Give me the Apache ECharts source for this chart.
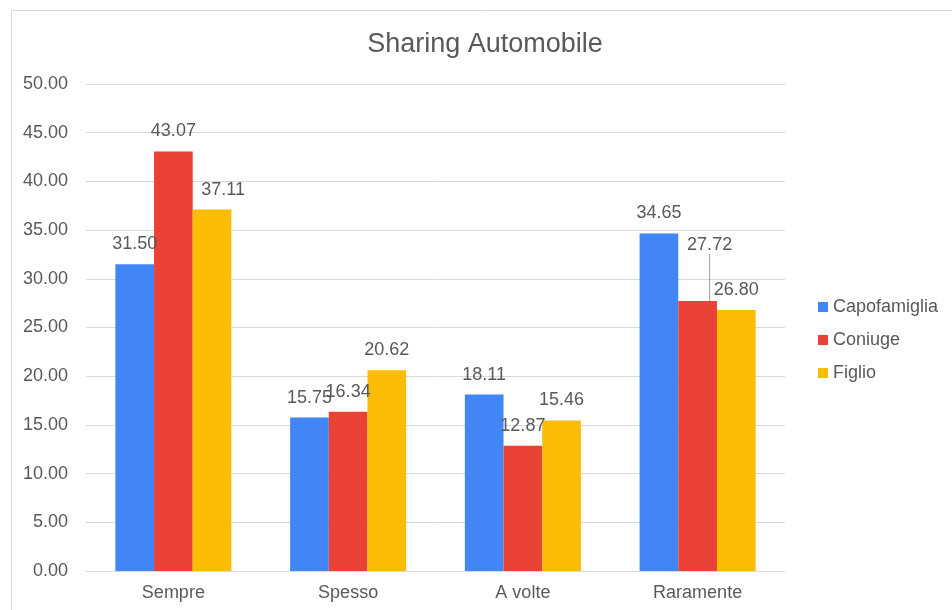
<!DOCTYPE html>
<html>
<head>
<meta charset="utf-8">
<script src="https://cdn.jsdelivr.net/npm/echarts@6/dist/echarts.min.js"></script>
<style>
  html, body { margin: 0; padding: 0; background: #fff; }
  #chart { width: 952px; height: 610px; }
</style>
</head>
<body>
<div id="chart"></div>
<script>
// dati
const categories = ['Sempre', 'Spesso', 'A volte', 'Raramente'];
const capofamiglia = [31.50, 15.75, 18.11, 34.65];
const coniuge = [43.07, 16.34, 12.87, 27.72];
const figlio = [37.11, 20.62, 15.46, 26.80];
const seriesNames = ['Capofamiglia', 'Coniuge', 'Figlio'];
const colors = ['#4285F4', '#EA4335', '#FBBC04'];

const textColor = '#595959';
const gridColor = '#d9d9d9';
const font = 'Arial, "Liberation Sans", sans-serif';

const chart = echarts.init(document.getElementById('chart'));

// spostamento di alcune etichette (come nell'originale)
function labelShift(params) {
  if (params.seriesIndex === 2 && params.dataIndex === 0) return { dx: 11 };
  if (params.seriesIndex === 1 && params.dataIndex === 3) return { dx: 12, dy: -36 };
  return {};
}

function makeSeries(name, data, i) {
  return {
    name: name,
    type: 'bar',
    // la sola etichetta spostata ha la linea guida
    data: data.map((v, j) => (i === 1 && j === 3)
      ? { value: v, labelLine: { show: true, lineStyle: { color: '#9e9e9e', width: 1 } } }
      : v),
    barGap: '0%',
    barCategoryGap: '33.6%',
    itemStyle: { color: colors[i] },
    label: {
      show: true,
      position: 'top',
      distance: 11,
      color: textColor,
      fontSize: 18,
      fontFamily: font,
      formatter: p => p.value.toFixed(2)
    },
    labelLine: { show: false },
    labelLayout: labelShift,
    emphasis: { disabled: true }
  };
}

const option = {
  animation: false,
  textStyle: { fontFamily: font },
  graphic: [{
    type: 'rect',
    shape: { x: 11.5, y: 10.5, width: 1000, height: 700 },
    style: { fill: 'none', stroke: gridColor, lineWidth: 1 },
    z: -1
  }],
  title: {
    text: 'Sharing Automobile',
    left: 480,
    textAlign: 'center',
    top: 26,
    textStyle: { color: textColor, fontSize: 27, fontWeight: 'normal', fontFamily: font }
  },
  legend: {
    orient: 'vertical',
    left: 813,
    top: 293,
    itemWidth: 10,
    itemHeight: 10,
    itemGap: 15,
    icon: 'rect',
    textStyle: { color: textColor, fontSize: 18, fontFamily: font },
    data: seriesNames
  },
  grid: { left: 86, right: 167, top: 84, bottom: 39, containLabel: false },
  xAxis: {
    type: 'category',
    data: categories,
    axisTick: { show: false },
    axisLine: { lineStyle: { color: gridColor } },
    axisLabel: { color: textColor, fontSize: 18, margin: 13, fontFamily: font }
  },
  yAxis: {
    type: 'value',
    min: 0,
    max: 50,
    interval: 5,
    axisLine: { show: false },
    axisTick: { show: false },
    splitLine: { lineStyle: { color: gridColor } },
    axisLabel: { color: textColor, fontSize: 18, margin: 18, fontFamily: font, formatter: v => v.toFixed(2) }
  },
  series: [
    makeSeries(seriesNames[0], capofamiglia, 0),
    makeSeries(seriesNames[1], coniuge, 1),
    makeSeries(seriesNames[2], figlio, 2)
  ]
};

chart.setOption(option);
</script>
</body>
</html>
